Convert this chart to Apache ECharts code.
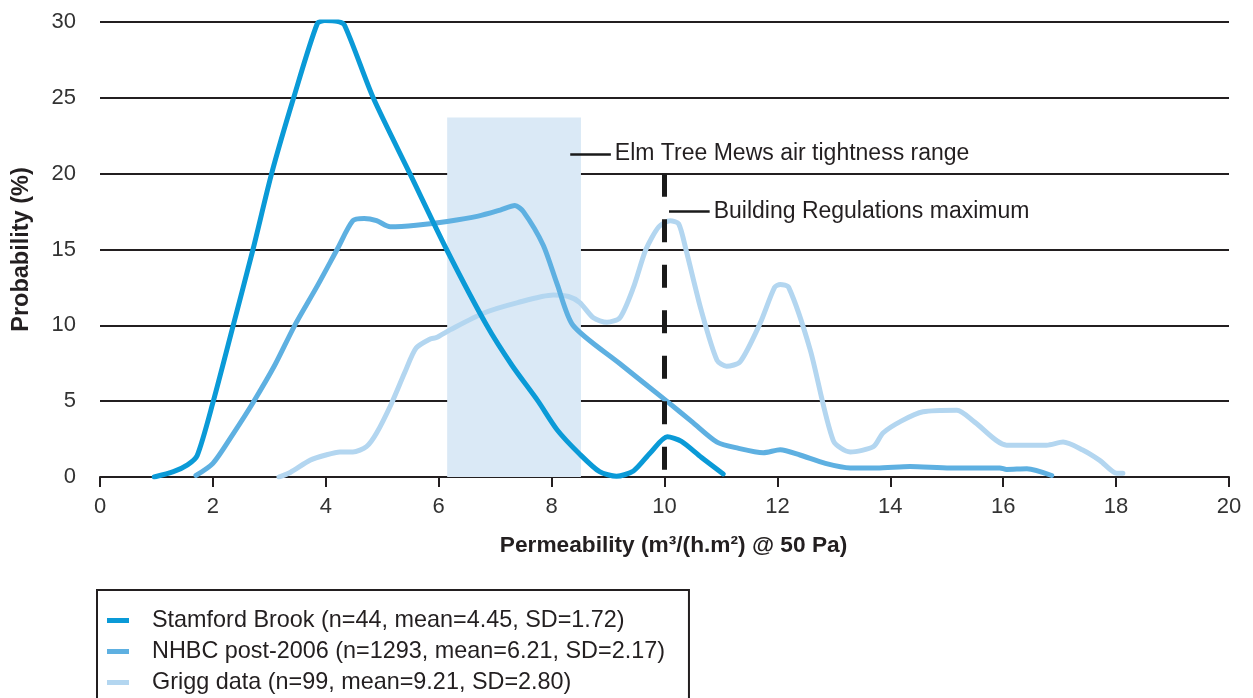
<!DOCTYPE html>
<html>
<head>
<meta charset="utf-8">
<script src="https://cdn.jsdelivr.net/npm/echarts@6/dist/echarts.min.js"></script>
<style>
html,body{margin:0;padding:0;background:#fff;}
#chart{width:1253px;height:698px;}
</style>
</head>
<body>
<div id="chart"></div>
<script>
// ---- Data (x = permeability, y = probability %) ----
var seriesNames = [
  'Stamford Brook (n=44, mean=4.45, SD=1.72)',
  'NHBC post-2006 (n=1293, mean=6.21, SD=2.17)',
  'Grigg data (n=99, mean=9.21, SD=2.80)'
];
var stamford = [[0.96,0],[1.3,0.35],[1.55,0.8],[1.72,1.4],[2.0,4.9],[2.36,10],[2.71,15],[3.04,20],[3.43,25],[3.85,29.9],[3.98,30.1],[4.2,30.05],[4.33,29.8],[4.84,25],[5.49,20],[6.14,15],[6.85,10],[7.3,7.35],[7.76,5],[8.1,3.1],[8.5,1.5],[8.85,0.35],[9.15,0.05],[9.45,0.4],[9.75,1.6],[10.05,2.65],[10.3,2.35],[10.65,1.3],[11.04,0.2]];
var nhbc = [[1.7,0.1],[2.0,0.9],[2.35,2.8],[2.71,4.9],[3.1,7.4],[3.45,10],[3.85,12.6],[4.2,15],[4.48,16.9],[4.68,17.05],[4.9,16.9],[5.14,16.5],[5.6,16.6],[6.15,16.85],[6.7,17.2],[7.09,17.6],[7.35,17.9],[7.5,17.5],[7.85,15.3],[8.1,12.7],[8.38,10],[9.2,7.5],[10.04,5],[10.5,3.6],[10.93,2.3],[11.3,1.9],[11.75,1.6],[12.05,1.8],[12.4,1.45],[12.85,0.9],[13.29,0.6],[13.76,0.6],[14.35,0.7],[15.06,0.6],[15.94,0.6],[16.06,0.5],[16.42,0.55],[16.86,0.1]];
var grigg = [[3.17,0],[3.37,0.3],[3.72,1.1],[4.0,1.45],[4.25,1.65],[4.48,1.65],[4.72,2.0],[4.9,2.9],[5.17,4.9],[5.4,6.9],[5.6,8.5],[5.85,9.1],[5.96,9.2],[6.2,9.7],[6.79,10.8],[7.4,11.5],[8.03,12.0],[8.3,11.9],[8.5,11.5],[8.74,10.5],[8.98,10.2],[9.21,10.5],[9.45,12.5],[9.67,15],[9.9,16.5],[10.1,16.9],[10.25,16.7],[10.38,15],[10.65,11],[10.93,7.7],[11.1,7.3],[11.34,7.6],[11.69,10.1],[11.95,12.5],[12.05,12.7],[12.2,12.5],[12.58,8.4],[12.99,2.4],[13.29,1.65],[13.7,2.0],[13.87,2.9],[14.2,3.7],[14.58,4.3],[15.18,4.4],[15.5,3.6],[16.06,2.1],[16.77,2.1],[17.06,2.3],[17.4,1.8],[17.71,1.1],[18.01,0.25],[18.12,0.25]];
var elmTreeRange = [6.15, 8.52];   // x range of shaded band
var elmTreeTop = 23.7;              // top of shaded band
var regsMaxX = 10;                  // Building Regulations maximum
var regsMaxTop = 20;
var annotations = [
  {text: 'Elm Tree Mews air tightness range', from: [8.33, 21.3], to: [9.05, 21.3]},
  {text: 'Building Regulations maximum', from: [10.08, 17.5], to: [10.8, 17.5]}
];
var xTicks = {min: 0, max: 20, interval: 2};
var yTicks = {min: 0, max: 30, interval: 5};

// ---- Styling ----
var FONT = 'Liberation Sans, Arial, sans-serif';
var TXT = '#231f20';
var colors = ['#0a9ad7', '#5eb0e1', '#b3d6f0'];

var chart = echarts.init(document.getElementById('chart'), null, {renderer: 'canvas'});

function lineSeries(name, data, color, z) {
  return {
    name: name, type: 'line', data: data, smooth: 0.25, showSymbol: false, symbol: 'none',
    z: z, lineStyle: {color: color, width: 5, cap: 'round', join: 'round'},
    itemStyle: {color: color}, emphasis: {disabled: true}
  };
}

var option = {
  animation: false,
  backgroundColor: '#fff',
  textStyle: {fontFamily: FONT, color: TXT},
  grid: {left: 100, right: 24, top: 22, bottom: 221, containLabel: false},
  legend: {
    data: seriesNames,
    orient: 'vertical', left: 97, top: 590, height: 300,
    padding: [19, 24, 30, 10],
    borderColor: '#231f20', borderWidth: 2,
    icon: 'rect', itemWidth: 22, itemHeight: 5, itemGap: 8,
    textStyle: {fontFamily: FONT, fontSize: 23.4, color: TXT, lineHeight: 22, padding: [0, 0, 0, 18]},
    selectedMode: false
  },
  xAxis: {
    type: 'value', min: xTicks.min, max: xTicks.max, interval: xTicks.interval,
    name: 'Permeability (m³/(h.m²) @ 50 Pa)', nameLocation: 'middle', nameGap: 57,
    nameTextStyle: {fontFamily: FONT, fontSize: 22.7, fontWeight: 'bold', color: TXT, padding: [0, 0, 0, 18]},
    axisLine: {show: true, lineStyle: {color: '#231f20', width: 2}},
    axisTick: {show: true, length: 10, lineStyle: {color: '#231f20', width: 2}},
    axisLabel: {fontFamily: FONT, fontSize: 22, color: '#333', margin: 19},
    splitLine: {show: false}
  },
  yAxis: {
    type: 'value', min: yTicks.min, max: yTicks.max, interval: yTicks.interval,
    name: 'Probability (%)', nameLocation: 'middle', nameGap: 66, nameRotate: 90,
    nameTextStyle: {fontFamily: FONT, fontSize: 23.5, fontWeight: 'bold', color: TXT},
    axisLine: {show: false}, axisTick: {show: false},
    axisLabel: {fontFamily: FONT, fontSize: 22, color: '#333', margin: 24},
    splitLine: {show: true, lineStyle: {color: '#231f20', width: 2}}
  },
  series: [
    {
      name: 'band', type: 'line', data: [], z: 1, silent: true,
      markArea: {
        silent: true,
        itemStyle: {color: '#dae9f6'},
        data: [[{coord: [elmTreeRange[0], 0]}, {coord: [elmTreeRange[1], elmTreeTop]}]]
      }
    },
    lineSeries(seriesNames[2], grigg, colors[2], 3),
    lineSeries(seriesNames[1], nhbc, colors[1], 4),
    lineSeries(seriesNames[0], stamford, colors[0], 5),
    {
      name: 'marks', type: 'line', data: [], z: 10, silent: true,
      markLine: {
        silent: true, symbol: ['none', 'none'],
        data: [
          [{coord: [regsMaxX, regsMaxTop], lineStyle: {color: '#1a1a1a', width: 5, type: [23, 22.5]}, label: {show: false}},
           {coord: [regsMaxX, 0]}]
        ].concat(annotations.map(function (a) {
          return [
            {coord: a.from, lineStyle: {color: '#1a1a1a', width: 2.5, type: 'solid'},
             label: {show: true, position: 'end', distance: 4, formatter: a.text,
                     fontFamily: FONT, fontSize: 23, color: TXT}},
            {coord: a.to}
          ];
        }))
      }
    }
  ]
};
chart.setOption(option);
</script>
</body>
</html>
